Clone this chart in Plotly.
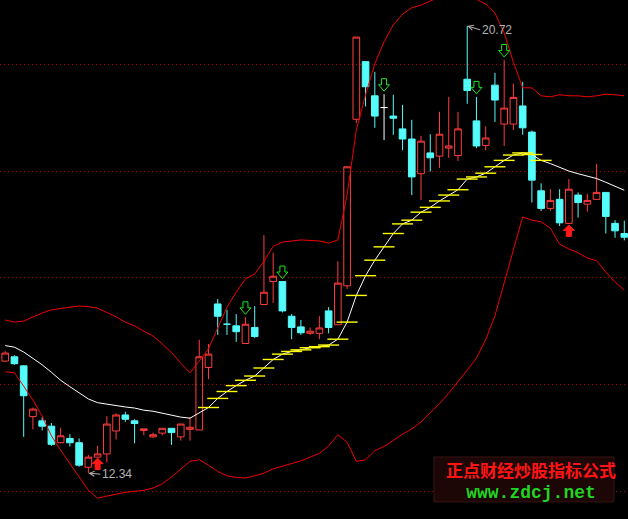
import plotly.graph_objects as go

# ---------------- data ----------------
n_bars = 68
bar_x = list(range(n_bars))

opens = [14.44, 14.52, 14.35, 13.40, 13.32, 13.22, 12.91, 12.99, 12.91, 12.45,
         12.64, 12.70, 13.13, 13.43, 13.32, 13.14, 13.02, 13.09, 13.18, 13.02,
         13.16, 13.15, 14.32, 15.51, 15.13, 15.10, 14.77, 15.07, 15.50, 15.93,
         15.93, 15.28, 15.08, 14.96, 14.96, 15.38, 15.12, 15.85, 18.97, 20.05,
         19.41, 19.19, 19.03, 18.79, 18.60, 17.95, 18.34, 18.28, 18.43, 18.29,
         19.72, 18.94, 18.48, 19.61, 18.88, 18.88, 19.22, 18.73, 17.63, 17.30,
         17.47, 17.02, 17.55, 17.38, 17.47, 17.60, 17.02, 16.83]
highs = [14.63, 14.55, 14.36, 13.57, 13.39, 13.28, 13.19, 13.07, 12.99, 12.68,
         12.85, 13.41, 13.46, 13.49, 13.35, 13.17, 13.10, 13.18, 13.18, 13.26,
         13.39, 14.84, 14.76, 15.60, 15.40, 15.32, 15.26, 15.47, 16.80, 16.47,
         15.93, 15.32, 15.21, 15.07, 15.28, 15.45, 16.31, 18.08, 20.51, 20.06,
         19.86, 19.44, 19.43, 19.24, 18.96, 18.66, 18.69, 19.11, 19.39, 19.11,
         20.72, 19.39, 18.84, 19.84, 20.08, 19.64, 19.67, 18.76, 17.77, 17.66,
         17.66, 17.85, 17.60, 17.57, 18.13, 17.60, 17.08, 17.07]
lows = [14.42, 14.37, 13.02, 13.16, 13.14, 12.85, 12.90, 12.84, 12.46, 12.34,
        12.64, 12.54, 12.97, 13.30, 12.90, 13.05, 13.00, 13.05, 12.87, 12.95,
        12.95, 13.15, 14.10, 14.93, 14.93, 14.80, 14.77, 14.87, 15.50, 15.53,
        15.35, 14.85, 14.93, 14.93, 14.85, 14.96, 15.12, 15.79, 18.90, 19.21,
        18.81, 18.58, 18.68, 18.39, 17.55, 17.46, 17.99, 18.06, 18.25, 18.19,
        19.26, 18.43, 18.39, 18.92, 18.47, 18.77, 18.68, 17.41, 17.25, 17.25,
        16.97, 17.01, 17.13, 17.24, 17.47, 16.83, 16.75, 16.70]
closes = [14.59, 14.39, 13.79, 13.54, 13.22, 12.88, 13.04, 12.91, 12.49, 12.64,
          12.70, 13.26, 13.43, 13.35, 13.27, 13.17, 13.06, 13.18, 13.10, 13.26,
          13.20, 14.52, 14.57, 15.28, 15.13, 14.99, 15.13, 14.90, 15.73, 16.03,
          15.38, 15.07, 14.97, 15.00, 15.06, 15.07, 15.90, 18.08, 20.51, 19.58,
          19.03, 19.19, 18.99, 18.60, 17.89, 18.56, 18.25, 18.69, 18.47, 18.79,
          19.51, 18.47, 18.62, 19.33, 19.18, 19.38, 18.81, 17.83, 17.30, 17.45,
          17.03, 17.66, 17.41, 17.45, 17.60, 17.15, 16.88, 16.76]

upper_band = [15.21, 15.17, 15.19, 15.27, 15.34, 15.40, 15.43, 15.45, 15.47, 15.46,
              15.43, 15.35, 15.27, 15.17, 15.10, 15.00, 14.91, 14.76, 14.60, 14.40,
              14.22, 14.44, 14.67, 15.06, 15.45, 15.73, 15.98, 16.07, 16.31, 16.59,
              16.67, 16.69, 16.71, 16.70, 16.69, 16.65, 16.71, 17.55, 18.77, 19.43,
              20.01, 20.42, 20.74, 20.94, 21.06, 21.11, 21.19, 21.26, 21.32, 21.32,
              21.28, 21.22, 21.13, 20.96, 20.59, 20.04, 19.56, 19.56, 19.41, 19.39,
              19.43, 19.41, 19.41, 19.39, 19.41, 19.44, 19.43, 19.41]
middle_band = [14.73, 14.70, 14.61, 14.49, 14.37, 14.23, 14.08, 13.96, 13.84, 13.73,
               13.66, 13.63, 13.60, 13.58, 13.56, 13.52, 13.50, 13.46, 13.42, 13.39,
               13.37, 13.47, 13.57, 13.74, 13.87, 13.98, 14.08, 14.16, 14.31, 14.47,
               14.57, 14.62, 14.65, 14.69, 14.71, 14.74, 14.85, 15.17, 15.67, 16.04,
               16.33, 16.58, 16.83, 17.01, 17.08, 17.23, 17.32, 17.44, 17.55, 17.65,
               17.85, 17.89, 17.96, 18.08, 18.20, 18.30, 18.34, 18.31, 18.20, 18.14,
               18.07, 18.00, 17.95, 17.91, 17.86, 17.79, 17.71, 17.64]
lower_band = [14.24, 14.22, 13.97, 13.71, 13.41, 13.04, 12.77, 12.53, 12.27, 12.02,
              11.87, 11.91, 11.95, 11.98, 12.00, 12.02, 12.06, 12.14, 12.27, 12.42,
              12.56, 12.59, 12.49, 12.37, 12.29, 12.26, 12.25, 12.29, 12.34, 12.42,
              12.47, 12.53, 12.57, 12.64, 12.71, 12.85, 13.06, 12.92, 12.56, 12.59,
              12.76, 12.84, 12.96, 13.07, 13.17, 13.30, 13.47, 13.64, 13.84, 14.05,
              14.27, 14.50, 14.84, 15.29, 15.90, 16.52, 17.14, 17.08, 17.05, 16.93,
              16.63, 16.54, 16.47, 16.37, 16.32, 16.11, 15.92, 15.77]

grid_levels = [12, 14, 16, 18, 20]
sell_signal_idx = [26, 30, 41, 51, 54]
buy_signal_idx = [10, 61]
white_doji_idx = [41]
rising_mark_idx = list(range(22, 59))
high_label_idx = 50
low_label_idx = 9

watermark_cn = "正点财经炒股指标公式"
watermark_url = "www.zdcj.net"

# ---------------- styling ----------------
UP = "#ff3c3c"
DOWN = "#54fcfc"
BAND = "#f00000"
GRID = "#b00000"
LABEL = "#b4b4b4"

up_i = [i for i in bar_x if i not in white_doji_idx and closes[i] > opens[i]]
down_i = [i for i in bar_x if i not in white_doji_idx and closes[i] <= opens[i]]


def candles(ids, color, name, hollow):
    fill = "rgba(0,0,0,0)" if hollow else color
    return go.Candlestick(
        x=ids,
        open=[opens[i] for i in ids],
        high=[highs[i] for i in ids],
        low=[lows[i] for i in ids],
        close=[closes[i] for i in ids],
        name=name,
        whiskerwidth=0,
        increasing=dict(line=dict(color=color, width=1), fillcolor=fill),
        decreasing=dict(line=dict(color=color, width=1), fillcolor=fill),
        hoverinfo="skip",
    )


fig = go.Figure()
fig.add_trace(go.Scatter(x=bar_x, y=upper_band, mode="lines",
                         line=dict(color=BAND, width=1), hoverinfo="skip"))
fig.add_trace(go.Scatter(x=bar_x, y=lower_band, mode="lines",
                         line=dict(color=BAND, width=1), hoverinfo="skip"))
fig.add_trace(go.Scatter(x=bar_x, y=middle_band, mode="lines",
                         line=dict(color="#ffffff", width=1), hoverinfo="skip"))
fig.add_trace(go.Scatter(x=rising_mark_idx, y=[middle_band[i] for i in rising_mark_idx],
                         mode="markers",
                         marker=dict(symbol="line-ew", size=15, color="#ffff00",
                                     line=dict(color="#ffff00", width=1.4)),
                         hoverinfo="skip"))
fig.add_trace(candles(up_i, UP, "up", True))
fig.add_trace(candles(down_i, DOWN, "down", False))
fig.add_trace(candles(white_doji_idx, "#ffffff", "doji", False))

shapes = []
sell_path = "M0,3L-5.5,9.5L-2.5,9.5L-2.5,15.5L2.5,15.5L2.5,9.5L5.5,9.5Z"
buy_path = "M0,-1L-5.5,-6.5L-2.5,-6.5L-2.5,-12.5L2.5,-12.5L2.5,-6.5L5.5,-6.5Z"
for i in sell_signal_idx:
    shapes.append(dict(type="path", xref="x", yref="y", xsizemode="pixel", ysizemode="pixel",
                       xanchor=i, yanchor=highs[i], path=sell_path,
                       line=dict(color="#18e818", width=1), fillcolor="rgba(0,0,0,0)"))
for i in buy_signal_idx:
    shapes.append(dict(type="path", xref="x", yref="y", xsizemode="pixel", ysizemode="pixel",
                       xanchor=i, yanchor=lows[i], path=buy_path,
                       line=dict(color="#ff1818", width=1), fillcolor="#ff1818"))
# watermark box
shapes.append(dict(type="rect", xref="paper", yref="paper", x0=0.6911, x1=0.9777,
                   y0=0.0330, y1=0.1195, layer="above",
                   fillcolor="#1c0606", line=dict(color="#3a1414", width=1)))

wm_text = (
    "<span style='color:#ff1414;font-family:Noto Sans CJK SC;font-size:17px;font-weight:bold'>"
    + watermark_cn + "</span><br>"
    + "<span style='color:#22d422;font-family:Liberation Mono;font-size:18px;font-weight:bold'>"
    + watermark_url + "</span>"
)

annotations = [
    dict(x=high_label_idx, y=highs[high_label_idx], xref="x", yref="y",
         text=f"{highs[high_label_idx]:.2f}", showarrow=True, arrowhead=5, arrowsize=1,
         arrowwidth=1, arrowcolor=LABEL, ax=13, ay=4, xanchor="left", yanchor="middle",
         standoff=0, font=dict(family="Liberation Sans", size=12, color=LABEL)),
    dict(x=low_label_idx, y=lows[low_label_idx], xref="x", yref="y",
         text=f"{lows[low_label_idx]:.2f}", showarrow=True, arrowhead=5, arrowsize=1,
         arrowwidth=1, arrowcolor=LABEL, ax=12, ay=1, xanchor="left", yanchor="middle",
         standoff=0, font=dict(family="Liberation Sans", size=12, color=LABEL)),
    dict(x=0.845, y=0.0754, xref="paper", yref="paper", text=wm_text, showarrow=False,
         xanchor="center", yanchor="middle", align="center",
         font=dict(family="Liberation Mono", size=16.2, color="#22d422")),
]

fig.update_layout(
    width=628, height=519,
    margin=dict(l=0, r=0, t=0, b=0),
    paper_bgcolor="#000000", plot_bgcolor="#000000",
    showlegend=False,
    boxgap=0.28, boxgroupgap=0,
    shapes=shapes, annotations=annotations,
    xaxis=dict(range=[-0.563, 67.40], showgrid=False, zeroline=False, showline=False,
               showticklabels=False, ticks="", rangeslider=dict(visible=False)),
    yaxis=dict(range=[11.481, 21.205], tickvals=grid_levels, showgrid=True,
               gridcolor=GRID, griddash="1px,3px", gridwidth=1, zeroline=False,
               showline=False, showticklabels=False, ticks=""),
)

fig.write_html(
    "out.html",
    config={"displayModeBar": False},
    post_script="document.body.style.margin='0';document.body.style.background='#000';",
)
